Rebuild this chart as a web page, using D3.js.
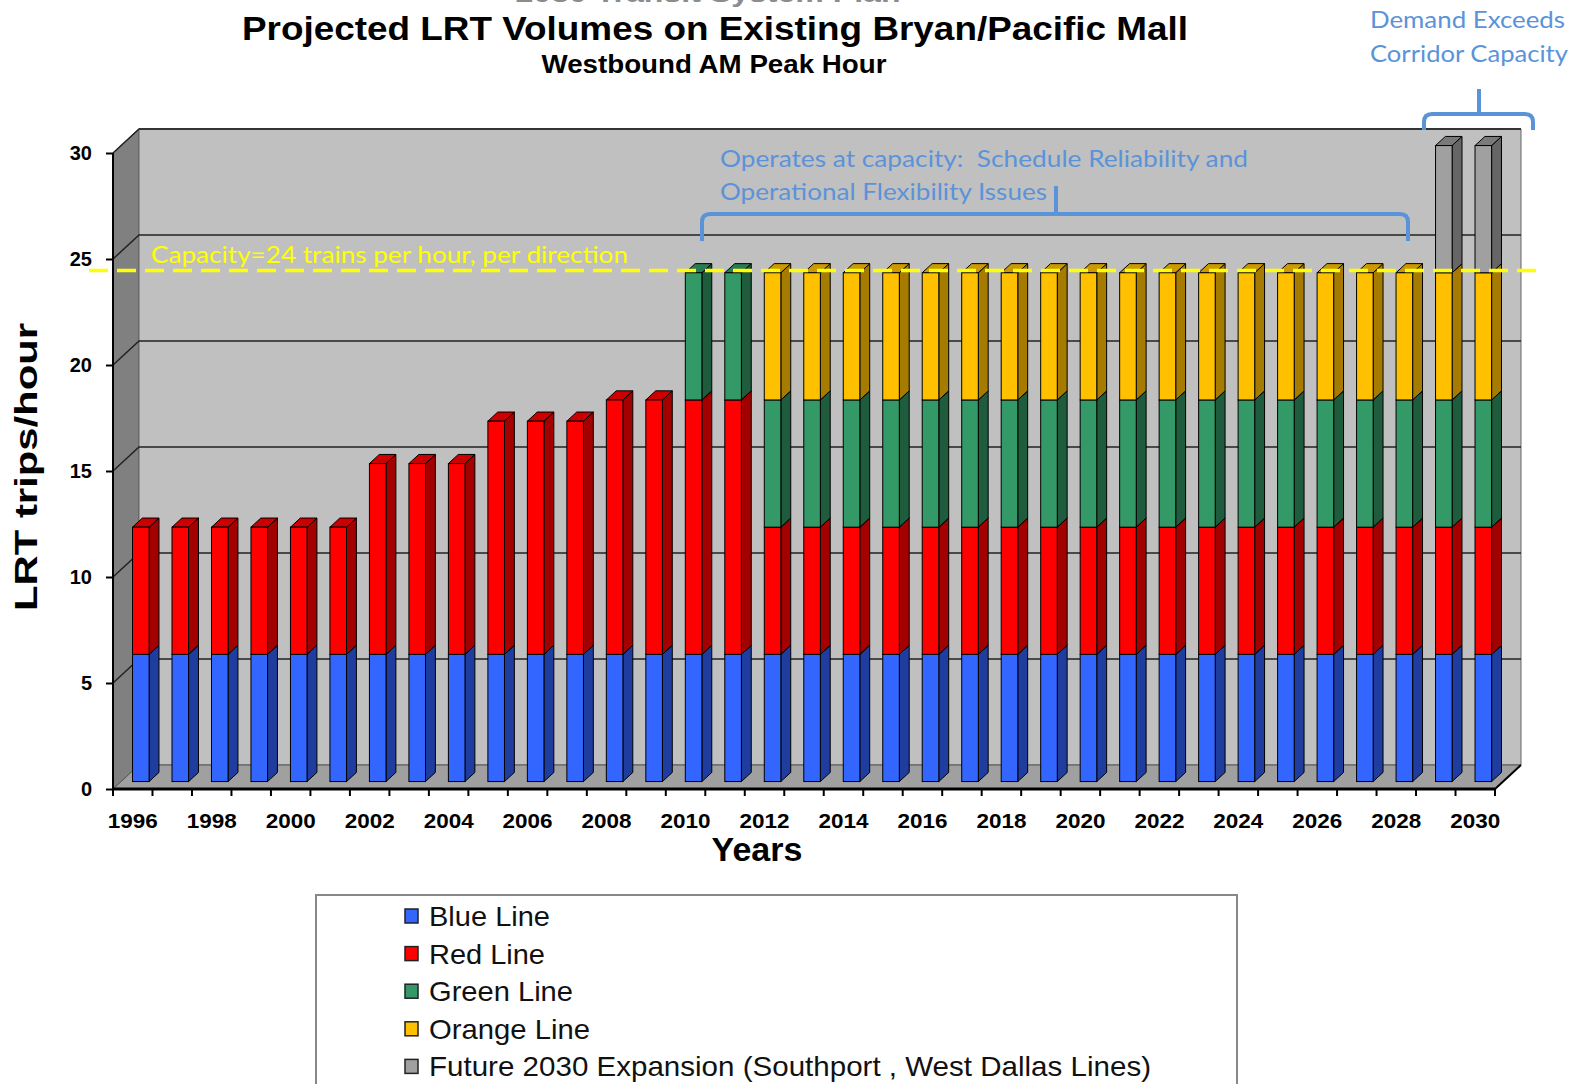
<!DOCTYPE html>
<html>
<head>
<meta charset="utf-8">
<script src="https://cdn.jsdelivr.net/npm/d3@7"></script>
<style>
body { margin: 0; background: #fff; }
svg { display: block; }
</style>
</head>
<body>
<script>
// categories
var years = [1996, 1997, 1998, 1999, 2000, 2001, 2002, 2003, 2004, 2005, 2006, 2007,
    2008, 2009, 2010, 2011, 2012, 2013, 2014, 2015, 2016, 2017, 2018, 2019, 2020,
    2021, 2022, 2023, 2024, 2025, 2026, 2027, 2028, 2029, 2030];

// trains per hour, by line
var blueLine   = [6, 6, 6, 6, 6, 6, 6, 6, 6, 6, 6, 6, 6, 6, 6, 6, 6, 6, 6, 6, 6, 6, 6, 6, 6, 6, 6, 6, 6, 6, 6, 6, 6, 6, 6];
var redLine    = [6, 6, 6, 6, 6, 6, 9, 9, 9, 11, 11, 11, 12, 12, 12, 12, 6, 6, 6, 6, 6, 6, 6, 6, 6, 6, 6, 6, 6, 6, 6, 6, 6, 6, 6];
var greenLine  = [0, 0, 0, 0, 0, 0, 0, 0, 0, 0, 0, 0, 0, 0, 6, 6, 6, 6, 6, 6, 6, 6, 6, 6, 6, 6, 6, 6, 6, 6, 6, 6, 6, 6, 6];
var orangeLine = [0, 0, 0, 0, 0, 0, 0, 0, 0, 0, 0, 0, 0, 0, 0, 0, 6, 6, 6, 6, 6, 6, 6, 6, 6, 6, 6, 6, 6, 6, 6, 6, 6, 6, 6];
var futureLine = [0, 0, 0, 0, 0, 0, 0, 0, 0, 0, 0, 0, 0, 0, 0, 0, 0, 0, 0, 0, 0, 0, 0, 0, 0, 0, 0, 0, 0, 0, 0, 0, 0, 6, 6];

var seriesNames = ["Blue Line", "Red Line", "Green Line", "Orange Line",
    "Future 2030 Expansion (Southport , West Dallas Lines)"];
var yTicks = [0, 5, 10, 15, 20, 25, 30];
var capacity = 24;

var width = 1583, height = 1084;

// faces: front, side, top
var colors = [
    ["#3366ff", "#1f3d9e", "#2a52cc"],
    ["#ff0000", "#a30000", "#cc0000"],
    ["#339966", "#1f5c3d", "#2a7a52"],
    ["#ffc000", "#a67c00", "#cc9a00"],
    ["#a0a0a0", "#666666", "#7a7a7a"]
];

var depthX = 26, depthY = 24;
function px(xv, z) { return xv + depthX * z; }
function py(yv, z) { return yv - depthY * z; }

var x = d3.scaleBand().domain(years).range([113, 1495]);
var y = d3.scaleLinear().domain([0, 30]).range([789, 153]);

var rows = years.map(function (yr, i) {
    return { year: yr, s0: blueLine[i], s1: redLine[i], s2: greenLine[i], s3: orangeLine[i], s4: futureLine[i] };
});
var stack = d3.stack().keys(["s0", "s1", "s2", "s3", "s4"]);
var stacked = stack(rows);

var svg = d3.select("body").append("svg")
    .attr("width", width)
    .attr("height", height);

function poly(pts) {
    return "M" + pts.map(function (p) { return p[0] + "," + p[1]; }).join("L") + "Z";
}

var x0 = x.range()[0], x1 = x.range()[1];
var yb = y(0), yt = y(30);

// walls
svg.append("path").attr("d", poly([[x0, yb], [x0, yt], [px(x0, 1), py(yt, 1)], [px(x0, 1), py(yb, 1)]]))
    .attr("fill", "#808080").attr("stroke", "#555").attr("stroke-width", 1);
svg.append("path").attr("d", poly([[px(x0, 1), py(yt, 1)], [px(x1, 1), py(yt, 1)], [px(x1, 1), py(yb, 1)], [px(x0, 1), py(yb, 1)]]))
    .attr("fill", "#c0c0c0").attr("stroke", "#666").attr("stroke-width", 1);
svg.append("path").attr("d", poly([[x0, yb], [x1, yb], [px(x1, 1), py(yb, 1)], [px(x0, 1), py(yb, 1)]]))
    .attr("fill", "#a0a0a0").attr("stroke", "#555").attr("stroke-width", 1);

// gridlines on the walls
yTicks.forEach(function (t) {
    if (t === 0) return;
    svg.append("path")
        .attr("d", "M" + x0 + "," + y(t) + "L" + px(x0, 1) + "," + py(y(t), 1) + "L" + px(x1, 1) + "," + py(y(t), 1))
        .attr("fill", "none").attr("stroke", "#222").attr("stroke-width", 1.5);
});
svg.append("line").attr("x1", px(x0, 1)).attr("x2", px(x1, 1)).attr("y1", py(yt, 1)).attr("y2", py(yt, 1))
    .attr("stroke", "#333").attr("stroke-width", 2);

// bars
var bw = x.bandwidth(), z0 = 0.31, z1 = 0.69;
var barG = svg.append("g");
years.forEach(function (yr, i) {
    var xl = x(yr) + bw * 0.29, xr = x(yr) + bw * 0.71;
    stacked.forEach(function (layer, k) {
        var d = layer[i];
        if (d[1] - d[0] <= 0) return;
        var yLo = y(d[0]), yHi = y(d[1]);
        barG.append("path")
            .attr("d", poly([[px(xr, z0), py(yLo, z0)], [px(xr, z1), py(yLo, z1)], [px(xr, z1), py(yHi, z1)], [px(xr, z0), py(yHi, z0)]]))
            .attr("fill", colors[k][1]).attr("stroke", "#000").attr("stroke-width", 1);
        barG.append("path")
            .attr("d", poly([[px(xl, z0), py(yHi, z0)], [px(xr, z0), py(yHi, z0)], [px(xr, z1), py(yHi, z1)], [px(xl, z1), py(yHi, z1)]]))
            .attr("fill", colors[k][2]).attr("stroke", "#000").attr("stroke-width", 1);
        barG.append("rect")
            .attr("x", px(xl, z0)).attr("y", py(yHi, z0))
            .attr("width", xr - xl).attr("height", yLo - yHi)
            .attr("fill", colors[k][0]).attr("stroke", "#000").attr("stroke-width", 1);
    });
});

// axes
svg.append("line").attr("x1", x0).attr("x2", x0).attr("y1", yt).attr("y2", yb)
    .attr("stroke", "#000").attr("stroke-width", 2);
svg.append("line").attr("x1", x0).attr("x2", x1).attr("y1", yb).attr("y2", yb)
    .attr("stroke", "#000").attr("stroke-width", 3);
svg.append("line").attr("x1", x1).attr("x2", px(x1, 1)).attr("y1", yb).attr("y2", py(yb, 1))
    .attr("stroke", "#000").attr("stroke-width", 2);

var yAxis = d3.axisLeft(y).tickValues(yTicks).tickSize(7).tickPadding(14);
svg.append("g").attr("transform", "translate(" + x0 + ",0)").call(yAxis)
    .call(function (g) {
        g.select(".domain").remove();
        g.selectAll(".tick line").attr("stroke", "#000").attr("stroke-width", 2);
        g.selectAll("text").attr("font-family", "Liberation Sans, Arial, sans-serif")
            .attr("font-weight", "bold").attr("font-size", 20).attr("fill", "#000");
    });

// x ticks at category boundaries, labels every other year
var xg = svg.append("g");
years.concat([null]).forEach(function (yr) {
    var xt = yr === null ? x1 : x(yr);
    xg.append("line").attr("x1", xt).attr("x2", xt).attr("y1", yb).attr("y2", yb + 7)
        .attr("stroke", "#000").attr("stroke-width", 2);
});
var xAxis = d3.axisBottom(x).tickValues(years.filter(function (d, i) { return i % 2 === 0; }))
    .tickSize(0).tickPadding(24);
svg.append("g").attr("transform", "translate(0," + yb + ")").call(xAxis)
    .call(function (g) {
        g.select(".domain").remove();
        g.selectAll("text").attr("font-family", "Liberation Sans, Arial, sans-serif")
            .attr("font-weight", "bold").attr("font-size", 21).attr("fill", "#000")
            .attr("textLength", 50).attr("lengthAdjust", "spacingAndGlyphs");
    });

// capacity line
var capY = py(y(capacity), 0.4);
svg.append("line").attr("x1", 89).attr("x2", 1538).attr("y1", capY).attr("y2", capY)
    .attr("stroke", "#ffff00").attr("stroke-width", 3.5).attr("stroke-dasharray", "19,9");

var annoFont = "Lato, 'Open Sans', sans-serif";
svg.append("text").attr("x", 151).attr("y", 263)
    .attr("font-family", annoFont).attr("font-size", 23).attr("fill", "#ffff00")
    .attr("textLength", 477).attr("lengthAdjust", "spacingAndGlyphs")
    .text("Capacity=24 trains per hour, per direction");

// blue annotations
var annoBlue = "#5b93d9";
svg.append("text").attr("x", 720).attr("y", 167)
    .attr("font-family", annoFont).attr("font-size", 24).attr("fill", annoBlue)
    .attr("textLength", 528).attr("lengthAdjust", "spacingAndGlyphs")
    .style("white-space", "pre")
    .text("Operates at capacity:  Schedule Reliability and");
svg.append("text").attr("x", 720).attr("y", 200)
    .attr("font-family", annoFont).attr("font-size", 24).attr("fill", annoBlue)
    .attr("textLength", 327).attr("lengthAdjust", "spacingAndGlyphs")
    .text("Operational Flexibility Issues");
svg.append("text").attr("x", 1370).attr("y", 28)
    .attr("font-family", annoFont).attr("font-size", 23).attr("fill", annoBlue)
    .attr("textLength", 195).attr("lengthAdjust", "spacingAndGlyphs")
    .text("Demand Exceeds");
svg.append("text").attr("x", 1370).attr("y", 62)
    .attr("font-family", annoFont).attr("font-size", 23).attr("fill", annoBlue)
    .attr("textLength", 198).attr("lengthAdjust", "spacingAndGlyphs")
    .text("Corridor Capacity");

function bracket(xa, xb, yLine, yEnd, xm, yTop) {
    var r = 8;
    return "M" + xa + "," + yEnd + "L" + xa + "," + (yLine + r) + "Q" + xa + "," + yLine + " " + (xa + r) + "," + yLine +
        "L" + (xb - r) + "," + yLine + "Q" + xb + "," + yLine + " " + xb + "," + (yLine + r) + "L" + xb + "," + yEnd +
        "M" + xm + "," + yLine + "L" + xm + "," + yTop;
}
svg.append("path").attr("d", bracket(702, 1408, 214, 241, 1056, 186))
    .attr("fill", "none").attr("stroke", annoBlue).attr("stroke-width", 4);
svg.append("path").attr("d", bracket(1424, 1533, 114, 130, 1479, 89))
    .attr("fill", "none").attr("stroke", annoBlue).attr("stroke-width", 4);

// titles (top line is cut off at the page edge, as in the source)
var titleFont = "Liberation Sans, Arial, sans-serif";
svg.append("text").attr("x", 708).attr("y", 2).attr("text-anchor", "middle")
    .attr("font-family", titleFont).attr("font-weight", "bold").attr("font-size", 26).attr("fill", "#8c8c8c")
    .attr("textLength", 385).attr("lengthAdjust", "spacingAndGlyphs")
    .text("2030 Transit System Plan");
svg.append("text").attr("x", 715).attr("y", 40).attr("text-anchor", "middle")
    .attr("font-family", titleFont).attr("font-weight", "bold").attr("font-size", 33).attr("fill", "#000")
    .attr("textLength", 946).attr("lengthAdjust", "spacingAndGlyphs")
    .text("Projected LRT Volumes on Existing Bryan/Pacific Mall");
svg.append("text").attr("x", 714).attr("y", 73).attr("text-anchor", "middle")
    .attr("font-family", titleFont).attr("font-weight", "bold").attr("font-size", 25).attr("fill", "#000")
    .attr("textLength", 345).attr("lengthAdjust", "spacingAndGlyphs")
    .text("Westbound AM Peak Hour");

svg.append("text").attr("x", 757).attr("y", 861).attr("text-anchor", "middle")
    .attr("font-family", titleFont).attr("font-weight", "bold").attr("font-size", 34).attr("fill", "#000")
    .text("Years");
svg.append("text").attr("transform", "translate(37,467)rotate(-90)").attr("text-anchor", "middle")
    .attr("font-family", titleFont).attr("font-weight", "bold").attr("font-size", 31).attr("fill", "#000")
    .attr("textLength", 288).attr("lengthAdjust", "spacingAndGlyphs")
    .text("LRT trips/hour");

// legend
var legend = svg.append("g");
legend.append("rect").attr("x", 316).attr("y", 895).attr("width", 921).attr("height", 220)
    .attr("fill", "#fff").attr("stroke", "#888").attr("stroke-width", 2);
var legendW = [121, 116, 144, 161, 722];
seriesNames.forEach(function (name, k) {
    var cy = 916 + k * 37.6;
    legend.append("rect").attr("x", 405).attr("y", cy - 7).attr("width", 13).attr("height", 14)
        .attr("fill", colors[k][0]).attr("stroke", "#222").attr("stroke-width", 1.5);
    legend.append("text").attr("x", 429).attr("y", cy + 10)
        .attr("font-family", titleFont).attr("font-size", 28).attr("fill", "#111")
        .attr("textLength", legendW[k]).attr("lengthAdjust", "spacingAndGlyphs")
        .text(name);
});
</script>
</body>
</html>
